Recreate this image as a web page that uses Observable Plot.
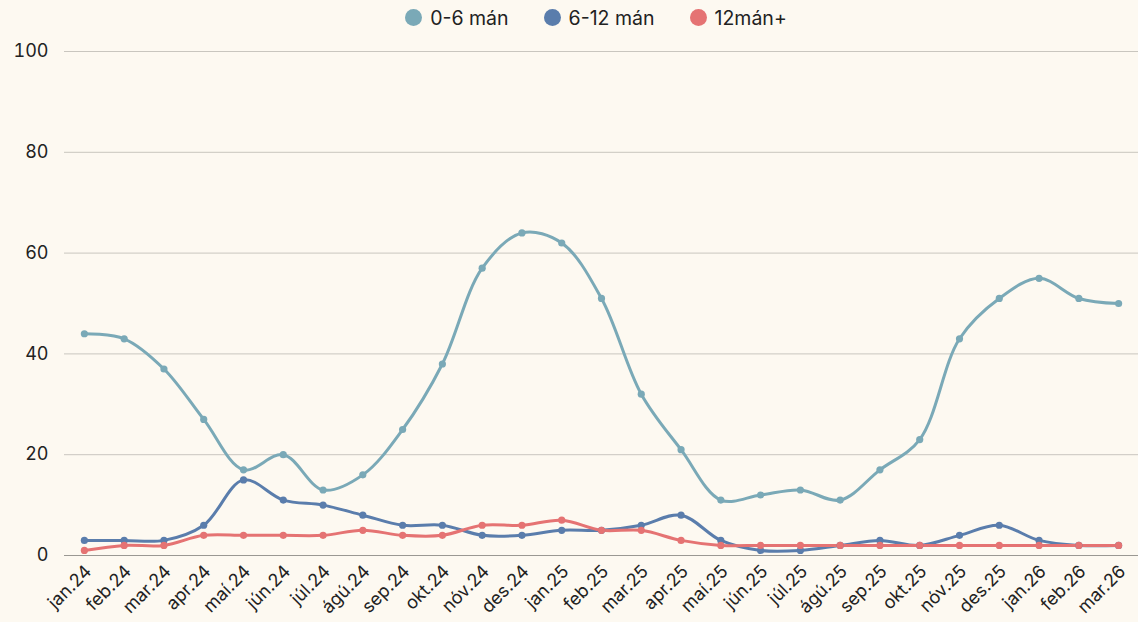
<!DOCTYPE html>
<html>
<head>
<meta charset="utf-8">
<script src="https://cdn.jsdelivr.net/npm/d3@7"></script>
<script src="https://cdn.jsdelivr.net/npm/@observablehq/plot@0.6"></script>
<style>
  html, body { margin: 0; padding: 0; background: #fdf9f1; }
  body { width: 1138px; height: 622px; overflow: hidden; font-family: "Inter", "Lato", sans-serif; }
  #legend { height: 35px; display: flex; justify-content: center; align-items: center; gap: 35px; font-size: 19.5px; color: #222; padding-left: 54px; box-sizing: border-box; }
  .item { display: flex; align-items: center; gap: 8px; }
  .sw { width: 17px; height: 17px; border-radius: 50%; display: inline-block; }
</style>
</head>
<body>
<div id="legend"></div>
<div id="chart"></div>
<script>
const months = ["jan.24","feb.24","mar.24","apr.24","maí.24","jún.24","júl.24","ágú.24","sep.24","okt.24","nóv.24","des.24",
  "jan.25","feb.25","mar.25","apr.25","maí.25","jún.25","júl.25","ágú.25","sep.25","okt.25","nóv.25","des.25",
  "jan.26","feb.26","mar.26"];
const seriesNames = ["0-6 mán", "6-12 mán", "12mán+"];
const s0_6 = [44,43,37,27,17,20,13,16,25,38,57,64,62,51,32,21,11,12,13,11,17,23,43,51,55,51,50];
const s6_12 = [3,3,3,6,15,11,10,8,6,6,4,4,5,5,6,8,3,1,1,2,3,2,4,6,3,2,2];
const s12p = [1,2,2,4,4,4,4,5,4,4,6,6,7,5,5,3,2,2,2,2,2,2,2,2,2,2,2];
const colors = ["#7aa9b7", "#5a7dac", "#e57373"];
const yTicks = [0,20,40,60,80,100];

const data = [];
[s0_6, s6_12, s12p].forEach((arr, si) => arr.forEach((v, i) => data.push({month: months[i], value: v, series: seriesNames[si]})));

const legend = document.getElementById("legend");
seriesNames.forEach((n, i) => {
  const d = document.createElement("div"); d.className = "item";
  d.innerHTML = `<span class="sw" style="background:${colors[i]}"></span><span>${n}</span>`;
  legend.appendChild(d);
});

const chart = Plot.plot({
  width: 1138, height: 587,
  marginTop: 16, marginBottom: 67, marginLeft: 64, marginRight: 0,
  style: {background: "#fdf9f1", fontFamily: "Inter, Lato, sans-serif", fontSize: "18px", color: "#222"},
  x: {type: "point", domain: months, padding: 0.5, round: false, label: null},
  y: {domain: [0, 100], ticks: yTicks, label: null, tickSize: 0, tickPadding: 16},
  color: {domain: seriesNames, range: colors},
  marks: [
    Plot.ruleY(yTicks.filter(d => d > 0), {stroke: "#c9c6bf", strokeWidth: 1}),
    Plot.ruleY([0], {stroke: "#9a9893", strokeWidth: 1.2}),
    Plot.axisX({tickSize: 0, tickPadding: 13, tickRotate: -45, dx: 4, label: null}),
    Plot.line(data, {x: "month", y: "value", stroke: "series", z: "series", curve: "catmull-rom", strokeWidth: 3}),
    Plot.dot(data, {x: "month", y: "value", fill: "series", r: 3.6})
  ]
});
document.getElementById("chart").appendChild(chart);
</script>
</body>
</html>
